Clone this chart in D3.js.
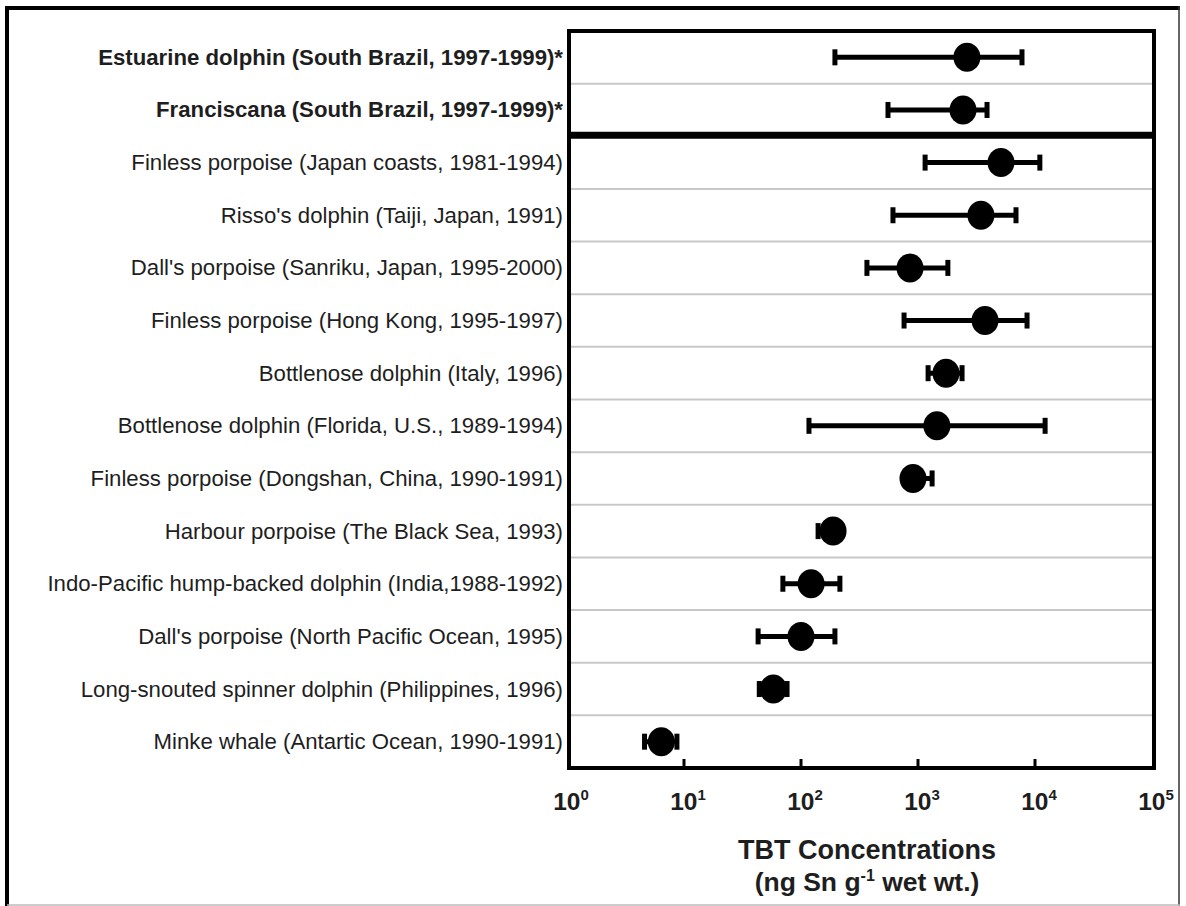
<!DOCTYPE html>
<html>
<head>
<meta charset="utf-8">
<script src="https://cdn.jsdelivr.net/npm/d3@7"></script>
<style>
  html, body { margin: 0; padding: 0; background: #fff; }
  svg { display: block; font-family: "Liberation Sans", Arial, Helvetica, sans-serif; }
</style>
</head>
<body>
<svg id="chart" width="1186" height="906"></svg>
<script>
// Species / location / period, top to bottom
const species = [
  "Estuarine dolphin (South Brazil, 1997-1999)*",
  "Franciscana (South Brazil, 1997-1999)*",
  "Finless porpoise (Japan coasts, 1981-1994)",
  "Risso's dolphin (Taiji, Japan, 1991)",
  "Dall's porpoise (Sanriku, Japan, 1995-2000)",
  "Finless porpoise (Hong Kong, 1995-1997)",
  "Bottlenose dolphin (Italy, 1996)",
  "Bottlenose dolphin (Florida, U.S., 1989-1994)",
  "Finless porpoise (Dongshan, China, 1990-1991)",
  "Harbour porpoise (The Black Sea, 1993)",
  "Indo-Pacific hump-backed dolphin (India,1988-1992)",
  "Dall's porpoise (North Pacific Ocean, 1995)",
  "Long-snouted spinner dolphin (Philippines, 1996)",
  "Minke whale (Antartic Ocean, 1990-1991)"
];
// Rows from the present study (drawn in bold, boxed at the top)
const highlighted = [true, true, false, false, false, false, false, false, false, false, false, false, false, false];

// TBT concentrations, ng Sn g-1 wet wt.
const meanTBT = [2620, 2425, 5120, 3450, 855, 3740, 1735, 1450, 906, 188, 122, 100, 58, 6.4];
const minTBT  = [195, 554, 1150, 611, 366, 760, 1220, 117, 800, 140, 70, 43, 44, 4.6];
const maxTBT  = [7740, 3890, 11000, 6880, 1800, 8550, 2380, 12200, 1320, 200, 215, 195, 76, 8.7];

// Axis ticks (powers of ten)
const tickExponents = [0, 1, 2, 3, 4, 5];
const axisTitle = "TBT Concentrations";
const axisUnits = ["(ng Sn g", "-1", " wet wt.)"];

const rows = species.map((name, i) => ({
  name, bold: highlighted[i], mean: meanTBT[i], lo: minTBT[i], hi: maxTBT[i]
}));

const svg = d3.select("#chart");
const plot = { left: 569, right: 1154, top: 31, bottom: 768 };

const x = d3.scaleLog().domain([1, 1e5]).range([plot.left - 2, plot.right - 2]);
const y = d3.scaleBand().domain(species).range([plot.top, plot.bottom]).paddingInner(0);
const yc = d => y(d) + y.bandwidth() / 2;

// Outer frame
svg.append("line").attr("x1", 5).attr("x2", 1180).attr("y1", 8).attr("y2", 8)
  .attr("stroke", "#000").attr("stroke-width", 4);
svg.append("line").attr("x1", 7).attr("x2", 7).attr("y1", 6).attr("y2", 906)
  .attr("stroke", "#000").attr("stroke-width", 4);
svg.append("line").attr("x1", 1179).attr("x2", 1179).attr("y1", 6).attr("y2", 906)
  .attr("stroke", "#333").attr("stroke-width", 1.5);
svg.append("line").attr("x1", 7).attr("x2", 1180).attr("y1", 905).attr("y2", 905)
  .attr("stroke", "#bbb").attr("stroke-width", 1.5);

// Row separators
svg.append("g").selectAll("line")
  .data(species.slice(1))
  .join("line")
  .attr("x1", plot.left).attr("x2", plot.right)
  .attr("y1", d => y(d)).attr("y2", d => y(d))
  .attr("stroke", "#c8c8c8").attr("stroke-width", 2);

// Heavy rule below the study's own samples
svg.append("line")
  .attr("x1", plot.left).attr("x2", plot.right)
  .attr("y1", y(species[2]) - 1).attr("y2", y(species[2]) - 1)
  .attr("stroke", "#000").attr("stroke-width", 7);

// Ranges
const bars = svg.append("g");
bars.selectAll("line.range")
  .data(rows).join("line").attr("class", "range")
  .attr("x1", d => x(d.lo)).attr("x2", d => x(d.hi))
  .attr("y1", d => yc(d.name)).attr("y2", d => yc(d.name))
  .attr("stroke", "#000").attr("stroke-width", 5);
["lo", "hi"].forEach(k => {
  bars.selectAll("rect.cap-" + k)
    .data(rows).join("rect").attr("class", "cap-" + k)
    .attr("x", d => x(d[k]) - 2.5).attr("width", 5)
    .attr("y", d => yc(d.name) - 8).attr("height", 16)
    .attr("fill", "#000");
});

// Means
svg.append("g").selectAll("ellipse")
  .data(rows).join("ellipse")
  .attr("cx", d => x(d.mean)).attr("cy", d => yc(d.name))
  .attr("rx", 13.5).attr("ry", 14.5)
  .attr("fill", "#000");

// Row labels
svg.append("g").selectAll("text")
  .data(rows).join("text")
  .attr("x", 563).attr("y", d => yc(d.name))
  .attr("text-anchor", "end").attr("dominant-baseline", "central")
  .attr("font-size", 22.2)
  .attr("font-weight", d => d.bold ? "bold" : "normal")
  .attr("fill", "#1e1e1e")
  .text(d => d.name);

// Inner tick marks along the bottom
svg.append("g").selectAll("line")
  .data(tickExponents.slice(1, -1))
  .join("line")
  .attr("x1", e => x(Math.pow(10, e))).attr("x2", e => x(Math.pow(10, e)))
  .attr("y1", plot.bottom).attr("y2", plot.bottom - 9)
  .attr("stroke", "#000").attr("stroke-width", 3);

// Plot frame
svg.append("rect")
  .attr("x", plot.left).attr("y", plot.top)
  .attr("width", plot.right - plot.left).attr("height", plot.bottom - plot.top)
  .attr("fill", "none").attr("stroke", "#000").attr("stroke-width", 4);

// Tick labels: 10 with superscript exponent
const tl = svg.append("g").selectAll("text")
  .data(tickExponents).join("text")
  .attr("x", e => x(Math.pow(10, e)) + 4).attr("y", 810)
  .attr("text-anchor", "middle")
  .attr("font-size", 24.5).attr("font-weight", "bold").attr("fill", "#1e1e1e");
tl.append("tspan").text("10");
tl.append("tspan").attr("dy", -10).attr("font-size", 15).text(e => e);

// Axis title
svg.append("text")
  .attr("x", 867).attr("y", 859).attr("text-anchor", "middle")
  .attr("font-size", 27).attr("font-weight", "bold").attr("fill", "#1e1e1e")
  .text(axisTitle);
const units = svg.append("text")
  .attr("x", 867).attr("y", 891).attr("text-anchor", "middle")
  .attr("font-size", 26.5).attr("font-weight", "bold").attr("fill", "#1e1e1e");
units.append("tspan").text(axisUnits[0]);
units.append("tspan").attr("dy", -10).attr("font-size", 16).text(axisUnits[1]);
units.append("tspan").attr("dy", 10).text(axisUnits[2]);
</script>
</body>
</html>
